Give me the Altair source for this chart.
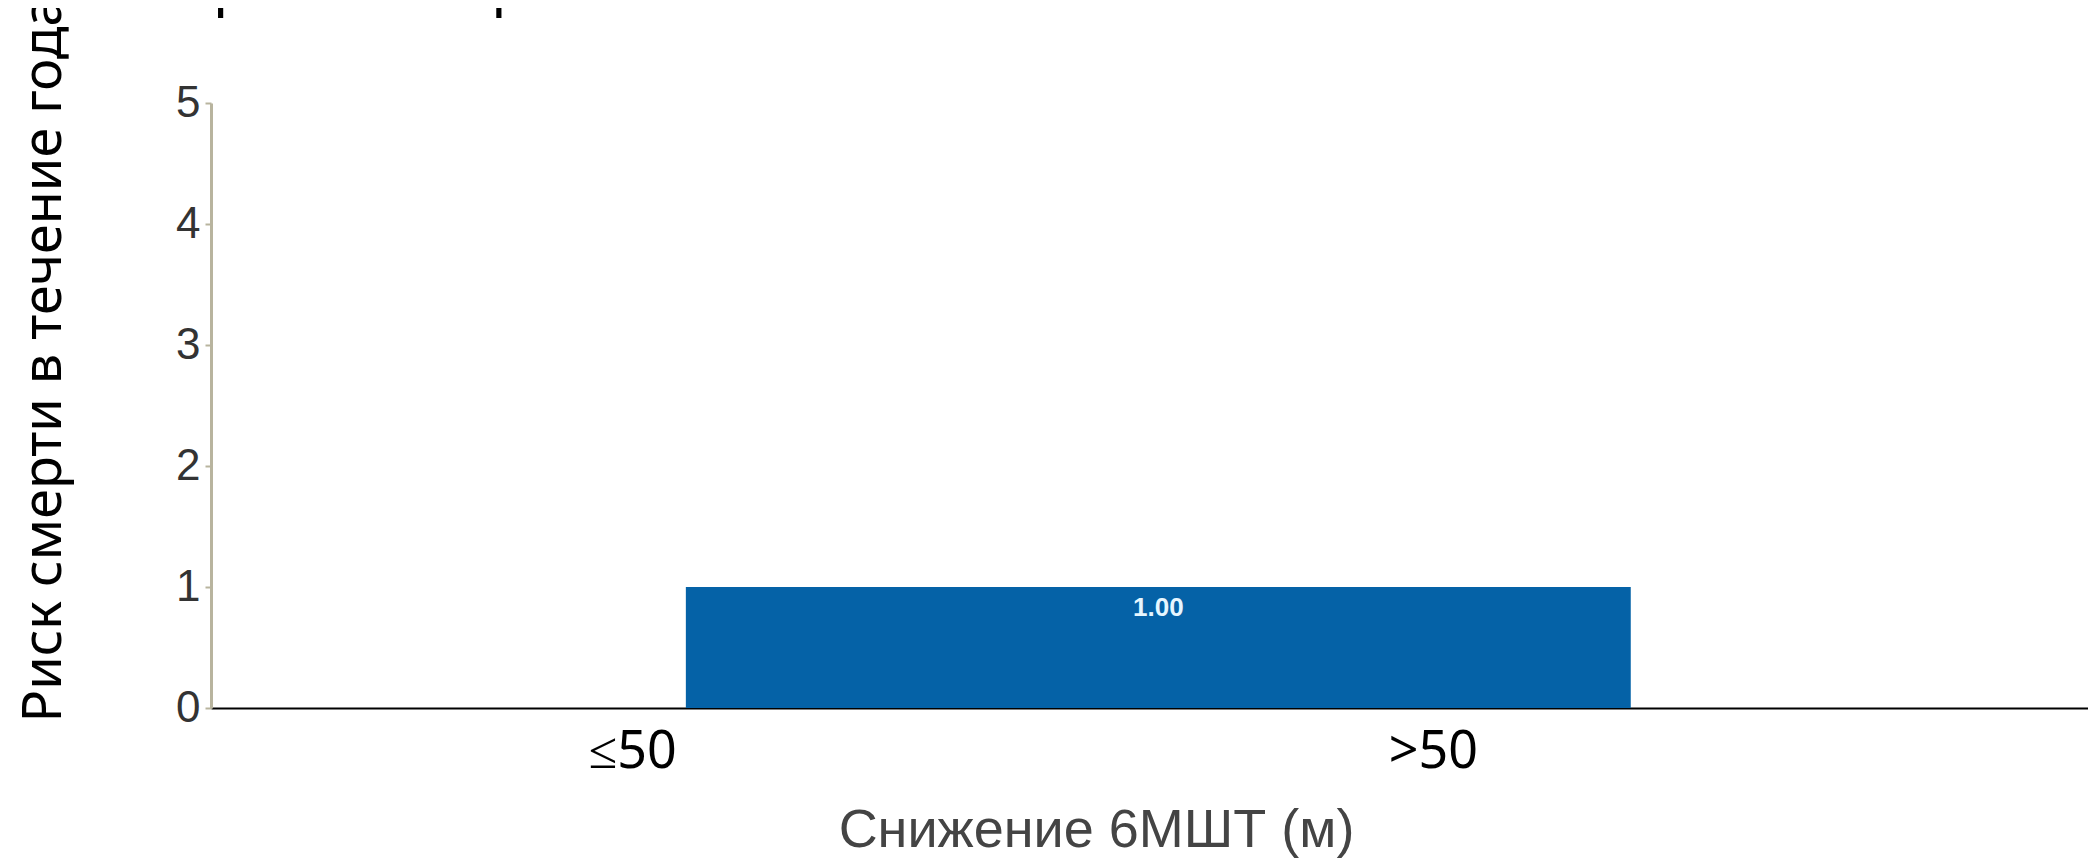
import altair as alt
import pandas as pd

# ---- data ----
categories = ["≤50", ">50"]          # x-axis category labels
category_pos = [0, 1]                # category index on the x scale
risk = [1.00]                        # annual death risk (the single bar)
bar_start = [0.067]                  # bar extent in category-index units
bar_end = [1.247]
x_domain = [-0.526, 1.818]
y_ticks = [0, 1, 2, 3, 4, 5]
title_text = ["смертности при ЛАГ"]  # visible (cut) part of the slide title

bars = pd.DataFrame({"start": bar_start, "end": bar_end, "risk": risk})
bars["base"] = 0.0
bars["mid"] = (bars["start"] + bars["end"]) / 2
bars["label"] = [f"{v:.2f}" for v in risk]

label_expr = "''"
for p, c in reversed(list(zip(category_pos, categories))):
    label_expr = f"datum.value == {p} ? '{c}' : ({label_expr})"

x_enc = alt.X(
    "start:Q",
    scale=alt.Scale(domain=x_domain, nice=False, zero=False),
    axis=alt.Axis(
        values=category_pos,
        labelExpr=label_expr,
        domainColor="#000000",
        domainWidth=2,
        ticks=False,
        grid=False,
        labelFont="Noto Sans",
        labelFontSize=52,
        labelColor="#000000",
        labelPadding=18,
        title="Снижение 6МШТ (м)",
        titleFont="Liberation Sans",
        titleFontSize=54,
        titleFontWeight="normal",
        titleColor="#444444",
        titlePadding=26,
        titleX=885,
    ),
)

y_enc = alt.Y(
    "risk:Q",
    scale=alt.Scale(domain=[0, 5], nice=False),
    axis=alt.Axis(
        values=y_ticks,
        format="d",
        domainColor="#b8b49e",
        domainWidth=3,
        tickColor="#b8b49e",
        tickWidth=2,
        tickSize=6,
        grid=False,
        labelFont="Liberation Sans",
        labelFontSize=44,
        labelColor="#333333",
        labelPadding=5,
        title="Риск смерти в течение года",
        titleFont="Noto Sans",
        titleFontSize=54,
        titleFontWeight="normal",
        titleColor="#000000",
        titleAngle=270,
        titleAlign="left",
        titleBaseline="alphabetic",
        titleX=-151,
        titleY=619,
    ),
)

bar = alt.Chart(bars).mark_bar(color="#0562a7").encode(
    x=x_enc,
    x2="end:Q",
    y=y_enc,
    y2="base:Q",
)

text = alt.Chart(bars).mark_text(
    baseline="top",
    dy=8,
    color="#e6f6ff",
    font="Liberation Sans",
    fontSize=26,
    fontWeight="bold",
).encode(
    x=alt.X("mid:Q"),
    y=alt.Y("risk:Q"),
    text="label:N",
)

title_df = pd.DataFrame({"t": title_text})
title_mark = alt.Chart(title_df).mark_text(
    align="left",
    baseline="alphabetic",
    font="Noto Sans",
    fontSize=59,
    color="#000000",
).encode(
    x=alt.value(-105),
    y=alt.value(-99),
    text="t:N",
)

chart = (
    alt.layer(bar, text, title_mark)
    .properties(
        width=1877,
        height=605,
        background="white",
        autosize=alt.AutoSizeParams(type="none"),
        padding={"left": 203, "top": 95, "right": 0, "bottom": 150},
    )
    .configure_axis(grid=False)
    .configure_view(stroke=None, strokeWidth=0)
)

chart.save("out.html", embed_options={"renderer": "svg", "actions": False})
